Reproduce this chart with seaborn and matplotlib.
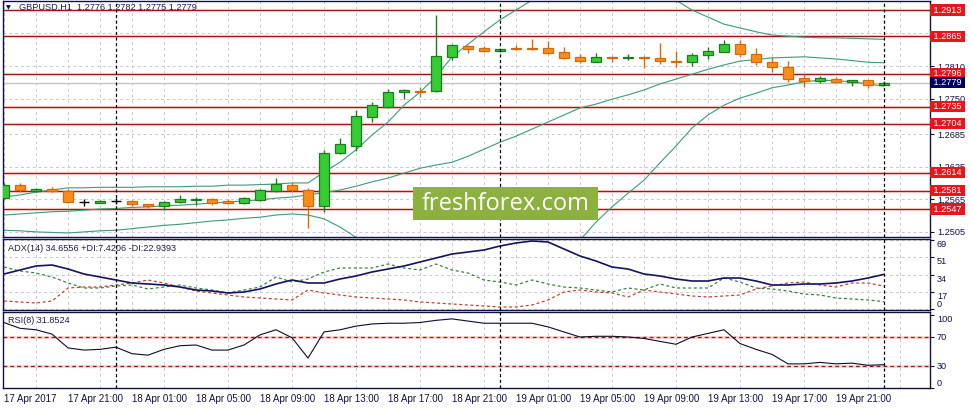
import numpy as np
import pandas as pd
import matplotlib
matplotlib.use("Agg")
import matplotlib.pyplot as plt
import matplotlib.transforms as mtransforms
from matplotlib.patches import Rectangle
import seaborn as sns

sns.set_style("white")
plt.rcParams['font.family'] = ['Liberation Sans', 'DejaVu Sans']

# ---------------- data ----------------
hours = list(range(56))   # H1 candles, 17 Apr 17:00 ... 20 Apr 00:00

opens = [1.2568, 1.2591, 1.2581, 1.2584, 1.2580, 1.2560, 1.2559, 1.2562, 1.2562, 1.2556,
         1.2553, 1.2560, 1.2563, 1.2565, 1.2562, 1.2558, 1.2563, 1.2580, 1.2591, 1.2582,
         1.2553, 1.2650, 1.2663, 1.2716, 1.2735, 1.2762, 1.2765, 1.2764, 1.2826, 1.2847,
         1.2843, 1.2837, 1.2843, 1.2843, 1.2843, 1.2836, 1.2827, 1.2818, 1.2827, 1.2824,
         1.2826, 1.2825, 1.2820, 1.2817, 1.2830, 1.2836, 1.2850, 1.2832, 1.2818, 1.2808,
         1.2788, 1.2782, 1.2786, 1.2781, 1.2784, 1.2776]
highs = [1.2594, 1.2595, 1.2586, 1.2587, 1.2584, 1.2565, 1.2563, 1.2567, 1.2564, 1.2557,
         1.2561, 1.2573, 1.2569, 1.2567, 1.2565, 1.2569, 1.2583, 1.2604, 1.2597, 1.2585,
         1.2656, 1.2677, 1.2729, 1.2744, 1.2768, 1.2767, 1.2771, 1.2904, 1.2850, 1.2849,
         1.2846, 1.2842, 1.2849, 1.2860, 1.2856, 1.2845, 1.2832, 1.2834, 1.2828, 1.2832,
         1.2828, 1.2852, 1.2838, 1.2834, 1.2845, 1.2858, 1.2858, 1.2843, 1.2826, 1.2819,
         1.2795, 1.2792, 1.2790, 1.2785, 1.2785, 1.2782]
lows = [1.2566, 1.2579, 1.2579, 1.2578, 1.2558, 1.2553, 1.2558, 1.2557, 1.2553, 1.2549,
        1.2545, 1.2558, 1.2555, 1.2555, 1.2556, 1.2556, 1.2562, 1.2578, 1.2579, 1.2512,
        1.2542, 1.2649, 1.2654, 1.2707, 1.2733, 1.2749, 1.2753, 1.2763, 1.2821, 1.2834,
        1.2836, 1.2836, 1.2840, 1.2840, 1.2833, 1.2823, 1.2815, 1.2817, 1.2817, 1.2822,
        1.2806, 1.2814, 1.2808, 1.2810, 1.2823, 1.2835, 1.2827, 1.2812, 1.2799, 1.2781,
        1.2771, 1.2779, 1.2780, 1.2773, 1.2769, 1.2775]
closes = [1.2591, 1.2582, 1.2583, 1.2580, 1.2560, 1.2560, 1.2562, 1.2562, 1.2556, 1.2553,
          1.2560, 1.2565, 1.2565, 1.2558, 1.2558, 1.2567, 1.2582, 1.2593, 1.2582, 1.2553,
          1.2650, 1.2667, 1.2718, 1.2738, 1.2762, 1.2766, 1.2762, 1.2828, 1.2849, 1.2841,
          1.2838, 1.2841, 1.2841, 1.2841, 1.2834, 1.2825, 1.2820, 1.2827, 1.2824, 1.2826,
          1.2824, 1.2820, 1.2818, 1.2830, 1.2837, 1.2850, 1.2832, 1.2818, 1.2809, 1.2786,
          1.2782, 1.2788, 1.2781, 1.2784, 1.2775, 1.2779]

bb_upper = [1.2569, 1.2573, 1.2578, 1.2582, 1.2586, 1.2586, 1.2587, 1.2587, 1.2587, 1.2588,
            1.2588, 1.2588, 1.2589, 1.2589, 1.2591, 1.2591, 1.2592, 1.2593, 1.2595, 1.2595,
            1.2615, 1.2633, 1.2656, 1.2683, 1.2707, 1.2738, 1.2762, 1.2790, 1.2827, 1.2850,
            1.2873, 1.2895, 1.2913, 1.2931, 1.2946, 1.2957, 1.2964, 1.2968, 1.2968, 1.2964,
            1.2959, 1.2946, 1.2931, 1.2913, 1.2900, 1.2887, 1.2880, 1.2873, 1.2867, 1.2865,
            1.2863, 1.2862, 1.2862, 1.2861, 1.2860, 1.2859]
bb_middle = [1.2536, 1.2538, 1.2540, 1.2542, 1.2543, 1.2545, 1.2547, 1.2548, 1.2550, 1.2551,
             1.2553, 1.2554, 1.2556, 1.2558, 1.2560, 1.2562, 1.2564, 1.2567, 1.2569, 1.2573,
             1.2577, 1.2582, 1.2589, 1.2597, 1.2604, 1.2613, 1.2622, 1.2628, 1.2633, 1.2644,
             1.2657, 1.2670, 1.2681, 1.2694, 1.2707, 1.2720, 1.2733, 1.2740, 1.2749, 1.2757,
             1.2766, 1.2777, 1.2786, 1.2795, 1.2804, 1.2812, 1.2819, 1.2822, 1.2825, 1.2826,
             1.2827, 1.2825, 1.2823, 1.2820, 1.2817, 1.2816]
bb_lower = [1.2508, 1.2507, 1.2505, 1.2504, 1.2503, 1.2505, 1.2507, 1.2508, 1.2511, 1.2514,
            1.2517, 1.2519, 1.2522, 1.2525, 1.2527, 1.2530, 1.2532, 1.2536, 1.2538, 1.2536,
            1.2529, 1.2514, 1.2495, 1.2477, 1.2461, 1.2444, 1.2429, 1.2417, 1.2402, 1.2395,
            1.2389, 1.2387, 1.2391, 1.2402, 1.2420, 1.2450, 1.2490, 1.2523, 1.2551, 1.2576,
            1.2600, 1.2632, 1.2663, 1.2696, 1.2720, 1.2738, 1.2751, 1.2760, 1.2770, 1.2775,
            1.2781, 1.2784, 1.2783, 1.2781, 1.2777, 1.2773]

adx = [35, 39, 43, 44, 40, 35, 32, 29, 26, 25, 24, 22, 19, 18, 16, 17, 20, 25, 29, 26,
       26, 30, 33, 37, 40, 43, 47, 51, 55, 57, 59, 63, 66, 68, 67, 60, 53, 48, 42, 40,
       35, 33, 30, 28, 28, 31, 31, 28, 24, 24, 25, 25, 26, 28, 31, 34.66]
plus_di = [42, 38, 36, 32, 26, 21, 21, 23, 24, 20, 22, 24, 21, 19, 16, 19, 22, 32, 27, 30,
           37, 41, 41, 41, 45, 41, 39, 45, 39, 36, 29, 27, 24, 29, 25, 22, 21, 19, 17, 21,
           19, 25, 21, 21, 21, 31, 27, 21, 20, 18, 15, 14, 11, 10, 9, 7.42]
minus_di = [8, 7, 6, 8, 21, 22, 22, 24, 26, 29, 26, 22, 18, 16, 14, 12, 11, 10, 9, 19,
            16, 14, 12, 11, 10, 9, 7, 6, 5, 4, 3, 2, 2, 4, 9, 17, 19, 17, 16, 12,
            19, 17, 15, 13, 12, 13, 14, 20, 23, 26, 27, 24, 22, 26, 26, 22.94]
rsi = [90, 82, 80, 74, 55, 52, 53, 56, 47, 45, 53, 58, 59, 52, 52, 59, 73, 80, 69, 41,
       77, 80, 85, 88, 89, 89, 90, 93, 95, 92, 89, 89, 89, 89, 84, 77, 70, 71, 71, 70,
       68, 64, 60, 70, 75, 80, 61, 53, 46, 33, 33, 35, 33, 34, 31, 31.85]

levels = [1.2913, 1.2865, 1.2796, 1.2735, 1.2704, 1.2614, 1.2581, 1.2547]
last_price = 1.2779
price_ticks = [1.2505, 1.2565, 1.2625, 1.2685, 1.2750, 1.2810, 1.2870]
price_tick_labels = ["1.2505", "1.2565", "1.2625", "1.2685", "1.2750", "1.2810", ""]
adx_ticks = [69, 51.75, 34.5, 17.25, 0]
adx_tick_labels = ["69", "51", "34", "17", "0"]
rsi_ticks = [100, 70, 30, 0]
rsi_levels = [70, 30]
day_separators = [7, 31, 55]
time_tick_pos = list(range(0, 56, 4))
time_tick_labels = ["17 Apr 2017", "17 Apr 21:00", "18 Apr 01:00", "18 Apr 05:00",
                    "18 Apr 09:00", "18 Apr 13:00", "18 Apr 17:00", "18 Apr 21:00",
                    "19 Apr 01:00", "19 Apr 05:00", "19 Apr 09:00", "19 Apr 13:00",
                    "19 Apr 17:00", "19 Apr 21:00"]

df = pd.DataFrame(dict(hour=hours, open=opens, high=highs, low=lows, close=closes,
                       up=bb_upper, mid=bb_middle, lo=bb_lower,
                       adx=adx, pdi=plus_di, mdi=minus_di, rsi=rsi))

# ---------------- figure ----------------
W, H = 971, 411
fig = plt.figure(figsize=(W / 100, H / 100), dpi=100)
fig.patch.set_facecolor('white')

def px_axes(x0, y0, x1, y1):
    return fig.add_axes([x0 / W, 1 - y1 / H, (x1 - x0) / W, (y1 - y0) / H])

ax_m = px_axes(3, 1, 930, 237)
ax_a = px_axes(3, 239, 930, 310)
ax_r = px_axes(3, 312, 930, 388)

NAVY = '#10104a'
GRID = '#c9c9c9'
LEVEL = '#9a1a1a'
GLOW = '#f8d8d8'
TXT = 7.0

for ax in (ax_m, ax_a, ax_r):
    ax.set_facecolor('white')
    ax.set_xlim(-0.0625, 57.875)
    for s in ax.spines.values():
        s.set_color(NAVY)
        s.set_linewidth(1.0)
    ax.set_xticks(np.arange(0, 58, 2), minor=True)
    ax.grid(which='minor', axis='x', color=GRID, lw=0.7, ls=(0, (3, 3)))
    ax.set_axisbelow(True)
    ax.yaxis.tick_right()
    ax.tick_params(axis='y', which='major', length=3, width=0.8, pad=2,
                   labelsize=6.6, colors=NAVY)
    ax.tick_params(axis='x', which='both', length=0)
    for d in day_separators:
        ax.axvline(d, color='black', lw=0.9, ls=(0, (2.5, 2)), zorder=4)

# ---- main price panel ----
ax_m.set_ylim(1.24956, 1.29296)
ax_m.set_yticks(price_ticks)
ax_m.set_yticklabels(price_tick_labels)
ax_m.grid(which='major', axis='y', color=GRID, lw=0.7, ls=(0, (3, 3)))
ax_m.set_xticks([])

for lv in levels:
    ax_m.axhline(lv, color=GLOW, lw=2.4, zorder=1.4)
    ax_m.axhline(lv, color=LEVEL, lw=0.9, zorder=1.5)
ax_m.axhline(last_price, color='#c4c4c4', lw=1.0, zorder=1.3)

for col in ('up', 'mid', 'lo'):
    sns.lineplot(data=df, x='hour', y=col, ax=ax_m, color='#3d9b78', lw=0.8, zorder=2)

for _, r in df.iterrows():
    o, c, h, l, x = r['open'], r['close'], r['high'], r['low'], r['hour']
    if abs(c - o) < 1e-9:
        ax_m.vlines(x, l, h, color='black', lw=1.0, zorder=3)
        ax_m.hlines(o, x - 0.32, x + 0.32, color='black', lw=1.0, zorder=3)
        continue
    if c > o:
        fill, edge = '#33cc33', '#1d7d1d'
    else:
        fill, edge = '#ff8c1a', '#d56a0c'
    ax_m.vlines(x, l, h, color=edge, lw=1.0, zorder=3)
    ax_m.bar(x, abs(c - o), bottom=min(o, c), width=0.62, color=fill,
             edgecolor=edge, linewidth=0.9, zorder=3.1)

ax_m.set_xlabel('')
ax_m.set_ylabel('')

trans = mtransforms.blended_transform_factory(ax_m.transAxes, ax_m.transData)
for lv in levels:
    ax_m.text(1.0015, lv, f" {lv:.4f} ", transform=trans, ha='left', va='center',
              fontsize=6.6, color='white', clip_on=False, zorder=6,
              bbox=dict(boxstyle='square,pad=0.12', fc='#e8161c', ec='none'))
ax_m.text(1.0015, last_price, f" {last_price:.4f} ", transform=trans, ha='left',
          va='center', fontsize=6.6, color='white', clip_on=False, zorder=6,
          bbox=dict(boxstyle='square,pad=0.12', fc='#00005e', ec='none'))

# ---- ADX panel ----
ax_a.set_ylim(-1, 70)
ax_a.set_xticks([])
ax_a.set_yticks(adx_ticks)
ax_a.set_yticklabels(adx_tick_labels)
for lbl in ax_a.get_yticklabels():
    lbl.set_va('bottom' if lbl.get_text() == '0' else 'top')
ax_a.grid(which='major', axis='y', color=GRID, lw=0.7, ls=(0, (3, 3)))
sns.lineplot(data=df, x='hour', y='pdi', ax=ax_a, color='#2f7d32', lw=0.85,
             linestyle=(0, (2.5, 2.2)))
sns.lineplot(data=df, x='hour', y='mdi', ax=ax_a, color='#c0392b', lw=0.85,
             linestyle=(0, (2.5, 2.2)))
sns.lineplot(data=df, x='hour', y='adx', ax=ax_a, color='#14145e', lw=1.2)
ax_a.set_xlabel('')
ax_a.set_ylabel('')

# ---- RSI panel ----
ax_r.set_ylim(-0.3, 104.5)
ax_r.set_yticks(rsi_ticks)
ax_r.set_yticklabels([str(t) for t in rsi_ticks])
for lbl in ax_r.get_yticklabels():
    t = lbl.get_text()
    lbl.set_va('top' if t == '100' else ('bottom' if t == '0' else 'center'))
for lv in rsi_levels:
    ax_r.axhline(lv, color=GLOW, lw=2.2, zorder=1.4)
    ax_r.axhline(lv, color='#8e1c1c', lw=0.9, ls=(0, (3, 2.5)), zorder=1.5)
sns.lineplot(data=df, x='hour', y='rsi', ax=ax_r, color='#0d0d2e', lw=0.8, zorder=3)
ax_r.set_xticks(time_tick_pos)
ax_r.set_xticklabels(time_tick_labels)
ax_r.tick_params(axis='x', which='major', length=0, pad=4, labelsize=TXT, colors=NAVY)
for lbl in ax_r.get_xticklabels():
    lbl.set_ha('left')
ax_r.set_xlabel('')
ax_r.set_ylabel('')

# ---- header texts ----
fig.text(6 / W, 1 - 7.5 / H, "\u25BC", fontsize=4.5, color=NAVY, va='center',
         ha='left', family=['DejaVu Sans'])
fig.text(19 / W, 1 - 7.5 / H, "GBPUSD,H1  1.2776 1.2782 1.2775 1.2779", fontsize=6.6,
         color='#1e1e50', va='center', ha='left')
fig.text(8 / W, 1 - 248.5 / H, "ADX(14) 34.6556 +DI:7.4206 -DI:22.9393", fontsize=6.6,
         color='#1e1e50', va='center', ha='left')
fig.text(8 / W, 1 - 320.5 / H, "RSI(8) 31.8524", fontsize=6.6,
         color='#1e1e50', va='center', ha='left')

# ---- watermark ----
fig.add_artist(Rectangle((413 / W, 1 - 220 / H), 185 / W, 33 / H,
                         transform=fig.transFigure, fc='#8cb13e', ec='none', zorder=5))
fig.text(506 / W, 1 - 204 / H, "freshforex.com", fontsize=17, color='white',
         family=['Open Sans', 'DejaVu Sans'], ha='center', va='center', zorder=6)

fig.savefig("out.png", dpi=100, facecolor='white')
